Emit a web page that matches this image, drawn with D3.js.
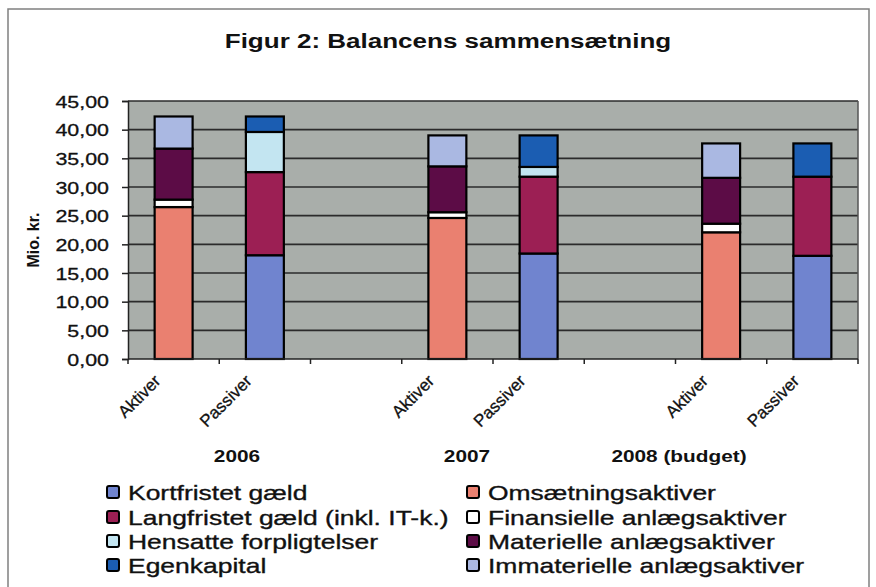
<!DOCTYPE html>
<html>
<head>
<meta charset="utf-8">
<script src="https://cdn.jsdelivr.net/npm/d3@7"></script>
<style>
  body { margin: 0; background: #fff; overflow: hidden; }
  svg { display: block; }
  text { font-family: "Liberation Sans", Arial, sans-serif; fill: #111; }
</style>
</head>
<body>
<div id="chart"></div>
<script>
// slots on the category axis (blank slot between the years)
const categories = ["Aktiver", "Passiver", "", "Aktiver", "Passiver", "", "Aktiver", "Passiver"];
const years = ["2006", "2007", "2008 (budget)"];
const aktiverSlot = [0, 3, 6];
const passiverSlot = [1, 4, 7];

// Aktiver (mio. kr.)
const omsaetning = [26.5, 24.6, 22.1];
const finansielle = [1.3, 1.0, 1.5];
const materielle = [8.9, 8.0, 8.0];
const immaterielle = [5.6, 5.4, 6.0];

// Passiver (mio. kr.)
const kortfristet = [18.1, 18.4, 18.0];
const langfristet = [14.5, 13.4, 13.8];
const hensatte = [7.0, 1.7, 0];
const egenkapital = [2.7, 5.5, 5.8];

const yTicks = [0, 5, 10, 15, 20, 25, 30, 35, 40, 45];

const seriesAktiver = [
  { name: "Omsætningsaktiver", values: omsaetning, color: "#ea8070" },
  { name: "Finansielle anlægsaktiver", values: finansielle, color: "#ffffff" },
  { name: "Materielle anlægsaktiver", values: materielle, color: "#5c0c46" },
  { name: "Immaterielle anlægsaktiver", values: immaterielle, color: "#aab8e2" }
];
const seriesPassiver = [
  { name: "Kortfristet gæld", values: kortfristet, color: "#7084cf" },
  { name: "Langfristet gæld (inkl. IT-k.)", values: langfristet, color: "#9c1f54" },
  { name: "Hensatte forpligtelser", values: hensatte, color: "#c3e5f1" },
  { name: "Egenkapital", values: egenkapital, color: "#1b5db2" }
];

const width = 876, height = 587;
const margin = { top: 101, right: 18, bottom: 228, left: 128 };
const innerWidth = width - margin.left - margin.right;
const innerHeight = height - margin.top - margin.bottom;
const sx = 1.26; // the scanned original is stretched horizontally

// widen a text horizontally, keeping it real text
function stretch(sel, k) {
  sel.each(function() {
    const w = this.getComputedTextLength();
    d3.select(this)
      .attr("textLength", w * (k || sx))
      .attr("lengthAdjust", "spacingAndGlyphs");
  });
}

const svg = d3.select("#chart").append("svg")
  .attr("width", width)
  .attr("height", height);

// outer frame
svg.append("path")
  .attr("d", `M8,${height} V9 H869 V${height}`)
  .attr("fill", "none")
  .attr("stroke", "#808080")
  .attr("stroke-width", 1.5);

// title
svg.append("text")
  .attr("x", 448).attr("y", 48)
  .attr("text-anchor", "middle")
  .attr("font-size", 20)
  .attr("font-weight", "bold")
  .text("Figur 2: Balancens sammensætning")
  .call(stretch, 1.3);

const g = svg.append("g")
  .attr("transform", `translate(${margin.left},${margin.top})`);

const x = d3.scaleBand()
  .domain(d3.range(categories.length))
  .range([0, innerWidth])
  .paddingInner(0.584)
  .paddingOuter(0.292);

const y = d3.scaleLinear()
  .domain([0, 45])
  .range([innerHeight, 0]);

// plot background
g.append("rect")
  .attr("width", innerWidth)
  .attr("height", innerHeight)
  .attr("fill", "#a9aeaa");

// gridlines
g.selectAll("line.grid")
  .data(yTicks.filter(d => d > 0))
  .enter().append("line")
  .attr("class", "grid")
  .attr("x1", 0).attr("x2", innerWidth)
  .attr("y1", d => y(d)).attr("y2", d => y(d))
  .attr("stroke", "#2b2b2b")
  .attr("stroke-width", 1.6);

// right plot edge
g.append("line")
  .attr("x1", innerWidth).attr("x2", innerWidth)
  .attr("y1", 0).attr("y2", innerHeight)
  .attr("stroke", "#555")
  .attr("stroke-width", 1.5);

// stacked bars
function drawStack(series, slots) {
  slots.forEach((slot, i) => {
    let base = 0;
    series.forEach(s => {
      const v = s.values[i];
      if (v > 0) {
        g.append("rect")
          .attr("x", x(slot))
          .attr("y", y(base + v))
          .attr("width", x.bandwidth())
          .attr("height", y(base) - y(base + v))
          .attr("fill", s.color)
          .attr("stroke", "#000")
          .attr("stroke-width", 2.2);
      }
      base += v;
    });
  });
}
drawStack(seriesAktiver, aktiverSlot);
drawStack(seriesPassiver, passiverSlot);

// y axis
const yAxis = g.append("g")
  .call(d3.axisLeft(y).tickValues(yTicks).tickSize(6).tickPadding(13)
    .tickFormat(d => d3.format(".2f")(d).replace(".", ",")));
yAxis.select(".domain").attr("stroke", "#222").attr("stroke-width", 1.5);
yAxis.selectAll(".tick line").attr("stroke", "#222").attr("stroke-width", 1.5);
yAxis.selectAll(".tick text")
  .attr("dy", "0.36em")
  .attr("font-size", 17)
  .attr("font-family", "Liberation Sans, Arial, sans-serif")
  .attr("fill", "#111")
  .attr("stroke", "#111").attr("stroke-width", 0.3)
  .call(stretch);

// x axis: ticks between categories
const xAxis = g.append("g")
  .attr("transform", `translate(0,${innerHeight})`);
xAxis.append("line")
  .attr("x1", 0).attr("x2", innerWidth)
  .attr("stroke", "#222").attr("stroke-width", 1.5);
xAxis.selectAll("line.tick")
  .data(d3.range(categories.length + 1))
  .enter().append("line")
  .attr("class", "tick")
  .attr("x1", d => d * x.step()).attr("x2", d => d * x.step())
  .attr("y1", 0).attr("y2", 5)
  .attr("stroke", "#222").attr("stroke-width", 1.5);

// rotated category labels
xAxis.selectAll("text.cat")
  .data(categories.map((c, i) => ({ c, i })).filter(d => d.c !== ""))
  .enter().append("text")
  .attr("class", "cat")
  .attr("transform", d => `translate(${x(d.i) + x.bandwidth() / 2 - 12},23) rotate(-45)`)
  .attr("text-anchor", "end")
  .attr("font-size", 17)
  .attr("stroke", "#111").attr("stroke-width", 0.3)
  .text(d => d.c);

// year labels
const yearX = [237, 467, 679];
svg.selectAll("text.year")
  .data(years)
  .enter().append("text")
  .attr("class", "year")
  .attr("x", (d, i) => yearX[i]).attr("y", 462)
  .attr("text-anchor", "middle")
  .attr("font-size", 16.5)
  .attr("font-weight", "bold")
  .text(d => d)
  .call(stretch);

// y axis title
svg.append("text")
  .attr("transform", "translate(39,240) rotate(-90)")
  .attr("text-anchor", "middle")
  .attr("font-size", 16)
  .attr("font-weight", "bold")
  .text("Mio. kr.");

// legend: two columns
const legendCols = [
  { x: 107, items: seriesPassiver },
  { x: 467, items: seriesAktiver }
];
const rowY = [492, 517, 541, 565];
legendCols.forEach(col => {
  col.items.forEach((s, i) => {
    svg.append("rect")
      .attr("x", col.x).attr("y", rowY[i] - 6)
      .attr("width", 12).attr("height", 12)
      .attr("rx", 2)
      .attr("fill", s.color)
      .attr("stroke", "#000")
      .attr("stroke-width", 2);
    svg.append("text")
      .attr("x", col.x + 21).attr("y", rowY[i] + 7.5)
      .attr("font-size", 21)
      .attr("stroke", "#111").attr("stroke-width", 0.35)
      .text(s.name)
      .call(stretch);
  });
});
</script>
</body>
</html>
